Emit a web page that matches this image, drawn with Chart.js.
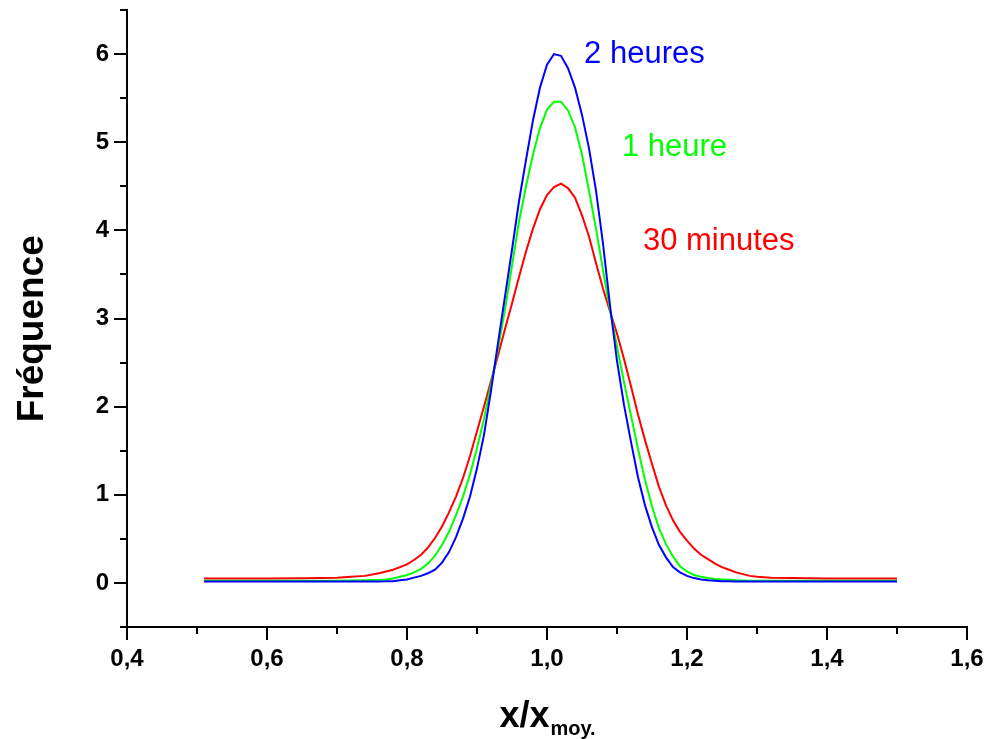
<!DOCTYPE html>
<html>
<head>
<meta charset="utf-8">
<script src="https://cdn.jsdelivr.net/npm/chart.js@4"></script>
<style>
  html, body { margin: 0; padding: 0; background: #fff; }
  #c { display: block; }
</style>
</head>
<body>
<canvas id="c" width="998" height="739"></canvas>
<script>
// ---- Data ----
const xValues = [0.51, 0.55, 0.60, 0.65, 0.70, 0.72, 0.74, 0.76, 0.77,
  0.78, 0.79, 0.80, 0.81, 0.82, 0.83, 0.84, 0.85, 0.86, 0.87, 0.88, 0.89,
  0.90, 0.91, 0.92, 0.93, 0.94, 0.95, 0.96, 0.97, 0.98, 0.99,
  1.00, 1.01, 1.02, 1.03, 1.04, 1.05, 1.06, 1.07, 1.08, 1.09,
  1.10, 1.11, 1.12, 1.13, 1.14, 1.15, 1.16, 1.17, 1.18, 1.19,
  1.20, 1.21, 1.22, 1.23, 1.24, 1.25, 1.26, 1.27, 1.28, 1.29, 1.30,
  1.32, 1.35, 1.40, 1.45, 1.50];

const deuxHeures = [0.015, 0.015, 0.015, 0.015, 0.015, 0.015, 0.015, 0.016, 0.018,
  0.02, 0.03, 0.04, 0.06, 0.08, 0.11, 0.15, 0.23, 0.35, 0.52, 0.73, 0.98,
  1.30, 1.68, 2.18, 2.72, 3.25, 3.78, 4.33, 4.80, 5.25, 5.62,
  5.88, 6.00, 5.98, 5.84, 5.62, 5.31, 4.93, 4.45, 3.85, 3.15,
  2.52, 2.02, 1.60, 1.20, 0.88, 0.63, 0.43, 0.29, 0.18, 0.12,
  0.08, 0.055, 0.04, 0.03, 0.025, 0.02, 0.018, 0.016, 0.015, 0.015, 0.015,
  0.015, 0.015, 0.015, 0.015, 0.015];

const uneHeure = [0.025, 0.025, 0.025, 0.025, 0.026, 0.027, 0.03, 0.035, 0.04,
  0.05, 0.07, 0.09, 0.12, 0.16, 0.22, 0.31, 0.43, 0.58, 0.77, 0.98, 1.23,
  1.53, 1.86, 2.25, 2.66, 3.10, 3.60, 4.10, 4.50, 4.86, 5.16,
  5.37, 5.46, 5.46, 5.36, 5.17, 4.86, 4.45, 4.02, 3.55, 3.10,
  2.68, 2.28, 1.90, 1.52, 1.17, 0.87, 0.62, 0.44, 0.30, 0.19,
  0.13, 0.09, 0.07, 0.055, 0.045, 0.04, 0.035, 0.03, 0.028, 0.026, 0.025,
  0.025, 0.025, 0.025, 0.025, 0.025];

const trenteMinutes = [0.05, 0.05, 0.05, 0.052, 0.06, 0.07, 0.08, 0.11, 0.13,
  0.15, 0.18, 0.21, 0.26, 0.32, 0.40, 0.51, 0.64, 0.80, 0.98, 1.19, 1.44,
  1.72, 2.00, 2.29, 2.58, 2.88, 3.17, 3.47, 3.76, 4.02, 4.24,
  4.40, 4.49, 4.53, 4.48, 4.37, 4.17, 3.93, 3.63, 3.34, 3.08,
  2.83, 2.54, 2.23, 1.91, 1.62, 1.35, 1.09, 0.88, 0.71, 0.58,
  0.48, 0.39, 0.32, 0.27, 0.22, 0.18, 0.15, 0.12, 0.10, 0.08, 0.07,
  0.06, 0.055, 0.05, 0.05, 0.05];

const seriesNames = ['2 heures', '1 heure', '30 minutes'];
const seriesColors = ['#0000ff', '#00ff00', '#ff0000'];
const xTickLabels = ['0,4', '0,6', '0,8', '1,0', '1,2', '1,4', '1,6'];
const yTickLabels = ['0', '1', '2', '3', '4', '5', '6'];

// ---- Styling / layout (separate from data) ----
const FONT = '"Liberation Sans", Arial, Helvetica, sans-serif';
const labelAnchors = [ // data-space anchor of each curve caption (left, middle)
  { x: 1.053, y: 6.0 },
  { x: 1.107, y: 4.94 },
  { x: 1.137, y: 3.87 }
];

function toPoints(ys) { return xValues.map((x, i) => ({ x: x, y: ys[i] })); }

const datasets = [deuxHeures, uneHeure, trenteMinutes].map((ys, i) => ({
  label: seriesNames[i],
  data: toPoints(ys),
  borderColor: seriesColors[i],
  backgroundColor: seriesColors[i],
  borderWidth: 2,
  pointRadius: 0,
  tension: 0,
  fill: false
}));

function fmtX(v) {
  const r = Math.round(v * 10);
  if (r % 2 !== 0) return '';
  const s = (r / 10).toFixed(1).replace('.', ',');
  return xTickLabels.includes(s) ? s : '';
}
function fmtY(v) {
  const r = Math.round(v * 2);
  if (r % 2 !== 0) return '';
  const s = String(r / 2);
  return yTickLabels.includes(s) ? s : '';
}

const tickMarks = {
  id: 'tickMarks',
  afterDraw(chart) {
    const ctx = chart.ctx;
    ctx.save();
    ctx.strokeStyle = '#000';
    ctx.lineWidth = 2;
    const xs = chart.scales.x, ys = chart.scales.y;
    const area = chart.chartArea;
    xs.ticks.forEach(t => {
      const px = Math.round(xs.getPixelForValue(t.value));
      const len = fmtX(t.value) ? 13 : 7;
      ctx.beginPath();
      ctx.moveTo(px, area.bottom);
      ctx.lineTo(px, area.bottom + len);
      ctx.stroke();
    });
    ys.ticks.forEach(t => {
      const py = Math.round(ys.getPixelForValue(t.value));
      const len = fmtY(t.value) ? 13 : 7;
      ctx.beginPath();
      ctx.moveTo(area.left, py);
      ctx.lineTo(area.left - len, py);
      ctx.stroke();
    });
    ctx.restore();
  }
};

const captions = {
  id: 'captions',
  afterDatasetsDraw(chart) {
    const ctx = chart.ctx;
    const xs = chart.scales.x, ys = chart.scales.y;
    ctx.save();
    ctx.font = '31px ' + FONT;
    ctx.textBaseline = 'middle';
    ctx.textAlign = 'left';
    seriesNames.forEach((name, i) => {
      ctx.fillStyle = seriesColors[i];
      ctx.fillText(name, xs.getPixelForValue(labelAnchors[i].x), ys.getPixelForValue(labelAnchors[i].y));
    });
    // x axis title with subscript
    const main = 'x/x', sub = 'moy.';
    ctx.fillStyle = '#000';
    ctx.textBaseline = 'alphabetic';
    ctx.font = 'bold 36px ' + FONT;
    const wMain = ctx.measureText(main).width;
    ctx.font = 'bold 20px ' + FONT;
    const wSub = ctx.measureText(sub).width;
    const cx = (chart.chartArea.left + chart.chartArea.right) / 2;
    const startX = cx - (wMain + wSub) / 2;
    ctx.font = 'bold 36px ' + FONT;
    ctx.fillText(main, startX, 727);
    ctx.font = 'bold 20px ' + FONT;
    ctx.fillText(sub, startX + wMain + 1, 735);
    ctx.restore();
  }
};

function fixPad(s) {
  s.paddingTop = 0; s.paddingBottom = 0; s.paddingLeft = 0; s.paddingRight = 0;
}

new Chart(document.getElementById('c'), {
  type: 'line',
  data: { datasets: datasets },
  options: {
    responsive: false,
    animation: false,
    devicePixelRatio: 1,
    layout: { padding: { top: 10, right: 31, left: 0, bottom: 0 } },
    plugins: { legend: { display: false }, tooltip: { enabled: false } },
    scales: {
      x: {
        type: 'linear',
        min: 0.4, max: 1.6,
        afterFit: s => { s.height = 112; fixPad(s); },
        border: { display: true, color: '#000', width: 2 },
        grid: { display: false, drawTicks: false },
        ticks: {
          stepSize: 0.1, autoSkip: false, maxRotation: 0, padding: 18,
          color: '#000', font: { family: FONT, size: 24, weight: 'bold' },
          callback: v => fmtX(v)
        },
        title: { display: false }
      },
      y: {
        type: 'linear',
        min: -0.5, max: 6.5,
        afterFit: s => { s.width = 127; fixPad(s); },
        border: { display: true, color: '#000', width: 2 },
        grid: { display: false, drawTicks: false },
        ticks: {
          stepSize: 0.5, autoSkip: false, padding: 18,
          color: '#000', font: { family: FONT, size: 24, weight: 'bold' },
          callback: v => fmtY(v)
        },
        title: {
          display: true, text: 'Fréquence  ', color: '#000',
          font: { family: FONT, size: 37, weight: 'bold' },
          padding: { top: 11, bottom: 0 }
        }
      }
    }
  },
  plugins: [tickMarks, captions]
});
</script>
</body>
</html>
